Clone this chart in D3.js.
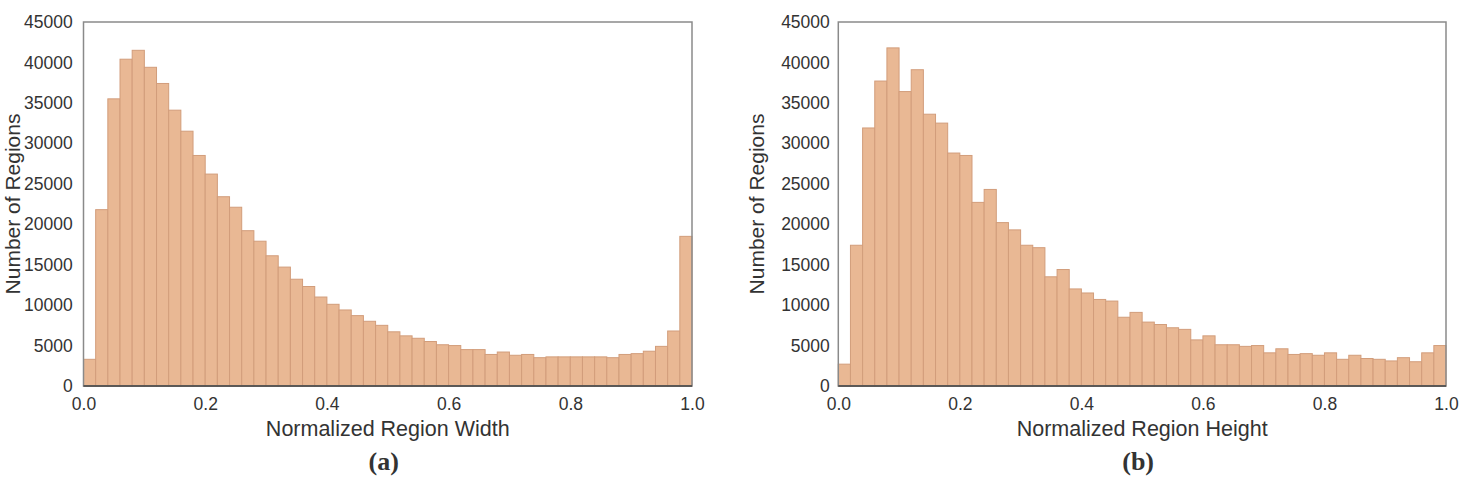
<!DOCTYPE html>
<html>
<head>
<meta charset="utf-8">
<script src="https://cdn.jsdelivr.net/npm/d3@7"></script>
<style>
  html, body { margin: 0; padding: 0; background: #fff; }
  svg { display: block; }
  text { font-family: "Liberation Sans", Arial, sans-serif; fill: #333; }
</style>
</head>
<body>
<svg id="chart" width="1461" height="480"></svg>
<script>
// ---- data ----
const binStarts = [0.00,0.02,0.04,0.06,0.08,0.10,0.12,0.14,0.16,0.18,
                   0.20,0.22,0.24,0.26,0.28,0.30,0.32,0.34,0.36,0.38,
                   0.40,0.42,0.44,0.46,0.48,0.50,0.52,0.54,0.56,0.58,
                   0.60,0.62,0.64,0.66,0.68,0.70,0.72,0.74,0.76,0.78,
                   0.80,0.82,0.84,0.86,0.88,0.90,0.92,0.94,0.96,0.98];
const binWidth = 0.02;

const widthCounts = [3300, 21800, 35500, 40400, 41500, 39400, 37400, 34100, 31500, 28500,
                     26200, 23400, 22100, 19200, 17900, 16100, 14700, 13200, 12300, 11000,
                     10100, 9400, 8700, 8000, 7500, 6700, 6200, 5900, 5500, 5100,
                     5000, 4500, 4500, 3900, 4200, 3800, 3900, 3500, 3600, 3600,
                     3600, 3600, 3600, 3500, 3900, 4000, 4300, 4900, 6800, 18500];

const heightCounts = [2700, 17400, 31900, 37700, 41800, 36400, 39100, 33600, 32500, 28800,
                      28500, 22700, 24300, 20200, 19300, 17400, 17100, 13500, 14400, 12000,
                      11500, 10700, 10500, 8500, 9100, 7900, 7600, 7200, 7000, 5700,
                      6200, 5100, 5100, 4900, 5000, 4100, 4600, 3900, 4000, 3800,
                      4100, 3300, 3800, 3400, 3300, 3100, 3500, 3000, 4100, 5000];

const yTicks = [0, 5000, 10000, 15000, 20000, 25000, 30000, 35000, 40000, 45000];
const xTicks = [0.0, 0.2, 0.4, 0.6, 0.8, 1.0];
const yLabel = "Number of Regions";
const xLabels = ["Normalized Region Width", "Normalized Region Height"];
const panelTags = ["(a)", "(b)"];

// ---- drawing ----
const svg = d3.select("#chart");
const panels = [
  { left: 83.5, right: 692, counts: widthCounts, xLabel: xLabels[0], tag: panelTags[0], yPad: 10.8, yLabelX: 20 },
  { left: 838.3, right: 1446, counts: heightCounts, xLabel: xLabels[1], tag: panelTags[1], yPad: 8.5, yLabelX: 764 }
];
const plotTop = 22, plotBottom = 386;

panels.forEach(p => {
  const x = d3.scaleLinear().domain([0, 1]).range([p.left, p.right]);
  const y = d3.scaleLinear().domain([0, 45000]).range([plotBottom, plotTop]);
  const g = svg.append("g");

  g.selectAll("rect.bar")
    .data(binStarts.map((b, i) => ({ b, v: p.counts[i] })))
    .join("rect")
    .attr("class", "bar")
    .attr("x", d => x(d.b))
    .attr("width", d => x(d.b + binWidth) - x(d.b))
    .attr("y", d => y(d.v))
    .attr("height", d => y(0) - y(d.v))
    .attr("fill", "#e9b894")
    .attr("stroke", "#d29d7b")
    .attr("stroke-width", 1);

  // frame
  g.append("rect")
    .attr("x", p.left).attr("y", plotTop)
    .attr("width", p.right - p.left).attr("height", plotBottom - plotTop)
    .attr("fill", "none").attr("stroke", "#8a8a8a").attr("stroke-width", 1.5);
  g.append("line")
    .attr("x1", p.left).attr("x2", p.right)
    .attr("y1", plotBottom).attr("y2", plotBottom)
    .attr("stroke", "#444").attr("stroke-width", 1.5);

  // y axis
  const ya = g.append("g").attr("transform", `translate(${p.left},0)`)
    .call(d3.axisLeft(y).tickValues(yTicks).tickSize(0).tickPadding(p.yPad).tickFormat(d3.format("d")));
  ya.select(".domain").remove();
  ya.selectAll("text").style("font-size", "17.5px").attr("fill", "#333")
    .style("font-family", '"Liberation Sans", Arial, sans-serif');

  // x axis
  const xa = g.append("g").attr("transform", `translate(0,${plotBottom})`)
    .call(d3.axisBottom(x).tickValues(xTicks).tickSize(0).tickPadding(11.6).tickFormat(d3.format(".1f")));
  xa.select(".domain").remove();
  xa.selectAll("text").style("font-size", "17.5px").attr("fill", "#333")
    .style("font-family", '"Liberation Sans", Arial, sans-serif');

  // labels
  const cx = (p.left + p.right) / 2;
  g.append("text")
    .attr("x", cx).attr("y", 436)
    .attr("text-anchor", "middle")
    .style("font-size", "21.5px")
    .text(p.xLabel);

  g.append("text")
    .attr("transform", `translate(${p.yLabelX},${(plotTop + plotBottom) / 2}) rotate(-90)`)
    .attr("text-anchor", "middle")
    .style("font-size", "21px")
    .text(yLabel);

  g.append("text")
    .attr("x", cx - 4).attr("y", 470)
    .attr("text-anchor", "middle")
    .style("font-family", '"Liberation Serif", "Times New Roman", serif')
    .style("font-weight", "bold")
    .style("font-size", "26px")
    .attr("fill", "#222")
    .text(p.tag);
});
</script>
</body>
</html>
